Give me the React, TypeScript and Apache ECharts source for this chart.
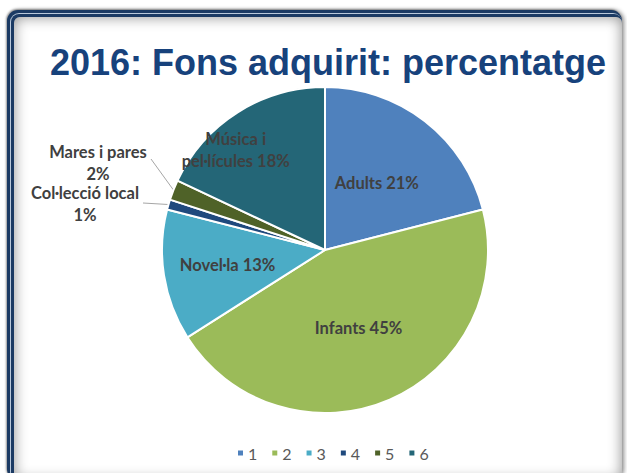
import React, { useEffect, useRef } from 'react';
import * as echarts from 'echarts';

const categories = ['Adults', 'Infants', 'Novel·la', 'Col·lecció local', 'Mares i pares', 'Música i\npel·lícules'];
const legendLabels = ['1', '2', '3', '4', '5', '6'];
const values = [21, 45, 13, 1, 2, 18];
const colors = ['#4f81bd', '#9bbb59', '#4bacc6', '#1f497d', '#4f6228', '#246677'];
const outside = [false, false, false, true, true, false];

// label layout nudges (style, not data)
const insideShift: Record<number, [number, number]> = { 2: [-14, 2], 5: [-44, -29] };
const outsideAnchor: Record<number, { c: [number, number]; end: [number, number] }> = {
  3: { c: [85, 204], end: [143, 203] },
  4: { c: [98, 163], end: [151, 159] },
};

const TITLE = '2016: Fons adquirit: percentatge';

export default function App() {
  const ref = useRef<HTMLDivElement>(null);
  useEffect(() => {
    if (!ref.current) return;
    const chart = echarts.init(ref.current, null, { renderer: 'svg' });
    const data = values.map((v, i) => ({
      name: legendLabels[i],
      value: v,
      itemStyle: { color: colors[i] },
      label: outside[i]
        ? { position: 'outside', formatter: `${categories[i]}\n${v}%` }
        : { position: 'inside', formatter: `${categories[i]} ${v}%` },
      labelLine: { show: outside[i] },
    }));
    chart.setOption({
      animation: false,
      title: {
        text: TITLE,
        left: 323,
        textAlign: 'center',
        top: 39,
        textStyle: { fontFamily: 'Liberation Sans', fontWeight: 'bold', fontSize: 36, color: '#17427c' },
      },
      legend: {
        bottom: 7,
        left: 231,
        itemWidth: 7,
        itemHeight: 7,
        itemGap: 13,
        icon: 'rect',
        data: legendLabels,
        textStyle: { fontFamily: 'Lato', fontSize: 16, color: '#595959', padding: [0, 0, 0, -1] },
      },
      series: [
        {
          type: 'pie',
          center: [325, 250],
          radius: 163,
          startAngle: 90,
          clockwise: true,
          data,
          itemStyle: { borderColor: '#ffffff', borderWidth: 2 },
          label: {
            fontFamily: 'Lato',
            fontWeight: 'bold',
            fontSize: 16.5,
            color: '#404040',
            lineHeight: 22,
            align: 'center',
          },
          labelLine: { lineStyle: { color: '#a6a6a6', width: 1 }, length: 12, length2: 10 },
          labelLayout: (p: any) => {
            const i = p.dataIndex;
            if (outsideAnchor[i]) {
              const a = outsideAnchor[i];
              const p0 = p.labelLinePoints ? p.labelLinePoints[0] : a.end;
              return {
                x: a.c[0],
                y: a.c[1],
                align: 'center',
                verticalAlign: 'middle',
                labelLinePoints: [p0, a.end, a.end],
              };
            }
            if (insideShift[i]) return { dx: insideShift[i][0], dy: insideShift[i][1] };
            return {};
          },
        },
      ],
    });
    return () => chart.dispose();
  }, []);

  return (
    <div style={{ position: 'fixed', left: 0, top: 0, width: 627, height: 473, overflow: 'hidden', background: '#fff' }}>
      <div
        style={{
          position: 'absolute', left: 7, top: 10, width: 615, height: 470, background: '#1b3a63',
          borderRadius: 11, boxShadow: '-1px -1px 2px rgba(0,0,0,0.35), 2px 0px 4px rgba(0,0,0,0.45)',
        }}
      >
        <div style={{ position: 'absolute', left: 3, top: 3, right: 0, bottom: 0, background: '#b9c8da', borderRadius: 9 }}>
          <div style={{ position: 'absolute', left: 1, top: 1, right: 0, bottom: 0, background: '#1b3a63', borderRadius: 8 }}>
            <div
              style={{
                position: 'absolute', left: 3, top: 3, right: 0, bottom: 0, background: '#fff', borderRadius: 6,
                boxShadow: 'inset 0 0 14px rgba(0,0,0,0.45)',
              }}
            />
          </div>
        </div>
      </div>
      <div ref={ref} style={{ position: 'absolute', left: 0, top: 0, width: 627, height: 473 }} />
    </div>
  );
}
